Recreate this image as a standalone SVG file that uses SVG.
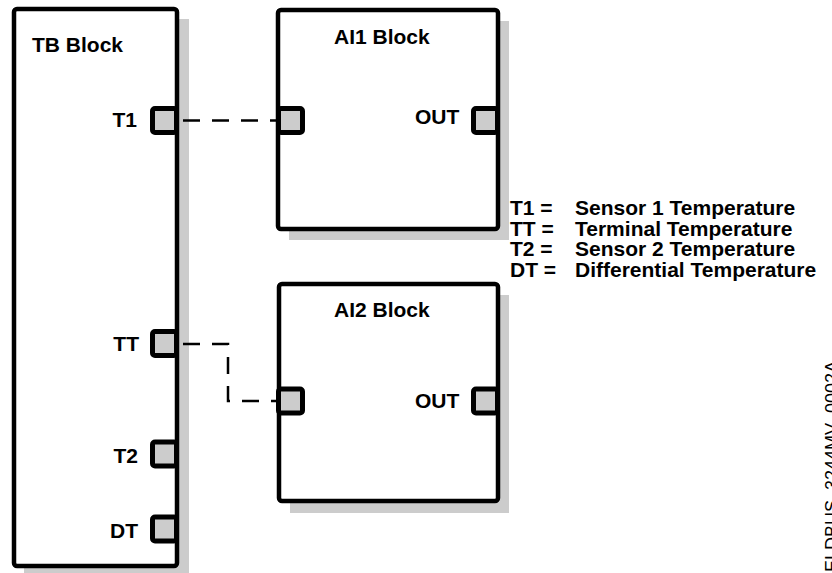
<svg xmlns="http://www.w3.org/2000/svg" width="832" height="573" viewBox="0 0 832 573">
<style>
.shadow{fill:#cccccc;stroke:none}
.box{fill:#ffffff;stroke:#000000;stroke-width:4.5}
.port{fill:#cccccc;stroke:#000000;stroke-width:5}
.lbl{font-family:"Liberation Sans",Arial,sans-serif;font-weight:bold;font-size:21px;fill:#000000}
.conn{fill:none;stroke:#000000;stroke-width:2.5;stroke-dasharray:17 12}
.fig{font-family:"Liberation Sans",Arial,sans-serif;font-size:18px;fill:#000000}
</style>
<rect width="832" height="573" fill="#ffffff"/>
<g id="tb-block">
<rect class="shadow" x="24" y="19" width="165" height="559"/>
<rect class="box" x="14" y="9" width="163" height="557" rx="3"/>
<text class="lbl" x="32" y="52">TB Block</text>
<rect class="port" x="152.5" y="108.5" width="24" height="24" rx="2.5"/>
<text class="lbl" x="137" y="127" text-anchor="end">T1</text>
<rect class="port" x="152.5" y="331.5" width="24" height="24" rx="2.5"/>
<text class="lbl" x="139" y="351" text-anchor="end">TT</text>
<rect class="port" x="152.5" y="442" width="24" height="24" rx="2.5"/>
<text class="lbl" x="138" y="463" text-anchor="end">T2</text>
<rect class="port" x="152.5" y="517" width="24" height="24" rx="2.5"/>
<text class="lbl" x="138" y="538" text-anchor="end">DT</text>
</g>
<g id="ai1-block">
<rect class="shadow" x="289" y="21" width="220" height="219"/>
<rect class="box" x="278" y="10" width="220" height="219" rx="3"/>
<text class="lbl" x="334" y="44">AI1 Block</text>
<rect class="port" x="278.5" y="108.5" width="24" height="24" rx="2.5"/>
<rect class="port" x="473.5" y="108.5" width="24" height="24" rx="2.5"/>
<text class="lbl" x="415" y="124">OUT</text>
</g>
<g id="ai2-block">
<rect class="shadow" x="290" y="295" width="219" height="218"/>
<rect class="box" x="279" y="284" width="219" height="217" rx="3"/>
<text class="lbl" x="334" y="317">AI2 Block</text>
<rect class="port" x="278.5" y="389" width="24" height="24" rx="2.5"/>
<rect class="port" x="473.5" y="389" width="24" height="24" rx="2.5"/>
<text class="lbl" x="415" y="408">OUT</text>
</g>
<g id="connectors">
<path class="conn" d="M183,120.5 H277"/>
<path class="conn" d="M183,344 H228 V401 H277"/>
</g>
<g id="legend">
<text class="lbl" x="510" y="215">T1 =</text>
<text class="lbl" x="575" y="215">Sensor 1 Temperature</text>
<text class="lbl" x="510" y="236">TT =</text>
<text class="lbl" x="575" y="236">Terminal Temperature</text>
<text class="lbl" x="510" y="256">T2 =</text>
<text class="lbl" x="575" y="256">Sensor 2 Temperature</text>
<text class="lbl" x="510" y="277">DT =</text>
<text class="lbl" x="575" y="277">Differential Temperature</text>
</g>
<text class="fig" transform="translate(838,588) rotate(-90)">FIELDBUS_3244MV_0002A</text>
</svg>
